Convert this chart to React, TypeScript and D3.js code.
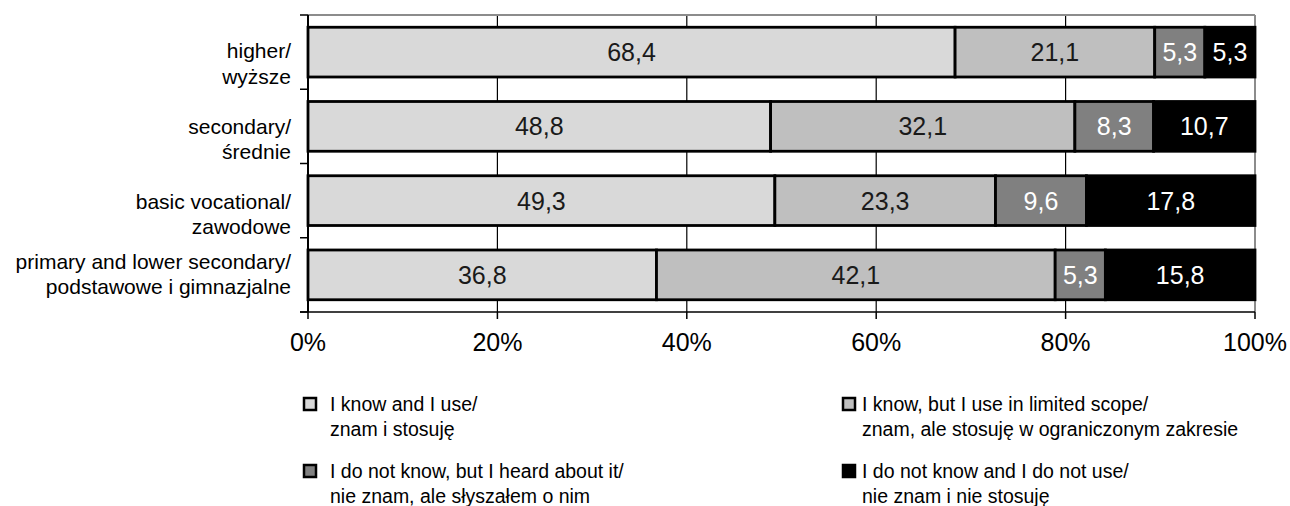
import React from "react";
import * as d3 from "d3";

// ---- data ----
const categories = [
  "higher/ wyższe",
  "secondary/ średnie",
  "basic vocational/ zawodowe",
  "primary and lower secondary/ podstawowe i gimnazjalne",
];
const categoryLines = [
  ["higher/", "wyższe"],
  ["secondary/", "średnie"],
  ["basic vocational/", "zawodowe"],
  ["primary and lower secondary/", "podstawowe i gimnazjalne"],
];
const seriesKeys = ["knowUse", "knowLimited", "heardOnly", "notKnow"];
const knowUse = [68.4, 48.8, 49.3, 36.8];
const knowLimited = [21.1, 32.1, 23.3, 42.1];
const heardOnly = [5.3, 8.3, 9.6, 5.3];
const notKnow = [5.3, 10.7, 17.8, 15.8];
const legendLines = [
  ["I know and I use/", "znam i stosuję"],
  ["I know, but I use in limited scope/", "znam, ale stosuję w ograniczonym zakresie"],
  ["I do not know, but I heard about it/", "nie znam, ale słyszałem o nim"],
  ["I do not know and I do not use/", "nie znam i nie stosuję"],
];
const xTicks = [0, 0.2, 0.4, 0.6, 0.8, 1];

// ---- style ----
const fills = ["#d9d9d9", "#bfbfbf", "#808080", "#000000"];
const labelColors = ["#1a1a1a", "#1a1a1a", "#ffffff", "#ffffff"];
const FONT = "'Liberation Sans', Arial, Helvetica, sans-serif";
const W = 1290;
const H = 506;
const left = 308;
const right = 1255;
const top = 15;
const bottom = 312;
const labelShift = [[6, 32], [8, 33], [8, 33], [-6, 19]];
const legendPos = [
  { mx: 304, tx: 330, y: 411 },
  { mx: 843, tx: 862, y: 411 },
  { mx: 304, tx: 330, y: 478 },
  { mx: 843, tx: 862, y: 478 },
];

export default function App() {
  const rows = categories.map((c, i) => ({
    cat: c,
    knowUse: knowUse[i],
    knowLimited: knowLimited[i],
    heardOnly: heardOnly[i],
    notKnow: notKnow[i],
  }));
  const stack = d3.stack<any>().keys(seriesKeys).offset(d3.stackOffsetExpand);
  const stacked = stack(rows);

  const x = d3.scaleLinear().domain([0, 1]).range([left, right]);
  const y = d3
    .scaleBand<string>()
    .domain(categories)
    .range([top, bottom])
    .paddingInner(0.33)
    .paddingOuter(0.165);
  const step = y.step();
  const fmt = (v: number) => v.toFixed(1).replace(".", ",");
  const pct = d3.format(".0%");

  return (
    <div style={{ position: "absolute", left: 0, top: 0 }}>
      <svg width={W} height={H} style={{ display: "block", background: "#fff" }} fontFamily={FONT}>
        {/* gridlines */}
        {xTicks.slice(1, -1).map((t) => (
          <line key={t} x1={x(t)} x2={x(t)} y1={top} y2={bottom} stroke="#000" strokeWidth={1.2} />
        ))}
        {/* plot border top/right */}
        <line x1={left} x2={right} y1={top} y2={top} stroke="#8c8c8c" strokeWidth={2} />
        <line x1={right} x2={right} y1={top} y2={bottom} stroke="#8c8c8c" strokeWidth={2} />
        {/* bars */}
        {stacked.map((s, si) => (
          <g key={s.key}>
            {s.map((d, i) => (
              <rect
                key={i}
                x={x(d[0])}
                y={y(categories[i])!}
                width={x(d[1]) - x(d[0])}
                height={y.bandwidth()}
                fill={fills[si]}
                stroke="#000"
                strokeWidth={2.8}
              />
            ))}
          </g>
        ))}
        {/* value labels */}
        {stacked.map((s, si) => (
          <g key={"l" + s.key}>
            {s.map((d, i) => (
              <text
                key={i}
                x={(x(d[0]) + x(d[1])) / 2}
                y={y(categories[i])! + y.bandwidth() / 2}
                dy="0.36em"
                textAnchor="middle"
                fontSize={25}
                fill={labelColors[si]}
              >
                {fmt((rows[i] as any)[s.key])}
              </text>
            ))}
          </g>
        ))}
        {/* y axis */}
        <line x1={left} x2={left} y1={top} y2={bottom} stroke="#000" strokeWidth={2} />
        {categories.map((c, i) => (
          <line key={"yt" + i} x1={left - 8} x2={left} y1={y(c)! - y.paddingOuter() * step} y2={y(c)! - y.paddingOuter() * step} stroke="#000" strokeWidth={1.5} />
        ))}
        <line x1={left - 8} x2={left} y1={bottom} y2={bottom} stroke="#000" strokeWidth={1.5} />
        {categories.map((c, i) => {
          const cy = y(c)! + y.bandwidth() / 2;
          return (
            <text key={"yl" + i} textAnchor="end" fontSize={21} fill="#000">
              {categoryLines[i].map((ln, j) => (
                <tspan key={j} x={291} y={cy + labelShift[i][j]}>
                  {ln}
                </tspan>
              ))}
            </text>
          );
        })}
        {/* x axis */}
        <line x1={left - 8} x2={right} y1={bottom} y2={bottom} stroke="#000" strokeWidth={1.5} />
        {xTicks.map((t) => (
          <g key={"xt" + t}>
            <line x1={x(t)} x2={x(t)} y1={bottom} y2={bottom + 7} stroke="#000" strokeWidth={1.5} />
            <text x={x(t)} y={bottom + 39} textAnchor="middle" fontSize={25} fill="#000">
              {pct(t)}
            </text>
          </g>
        ))}
        {/* legend */}
        {legendLines.map((lines, i) => {
          const p = legendPos[i];
          return (
            <g key={"lg" + i}>
              <rect x={p.mx} y={p.y - 13} width={12} height={12} fill={fills[i]} stroke="#000" strokeWidth={2.5} />
              <text fontSize={19.5} fill="#000">
                {lines.map((ln, j) => (
                  <tspan key={j} x={p.tx} y={p.y + j * 25}>
                    {ln}
                  </tspan>
                ))}
              </text>
            </g>
          );
        })}
      </svg>
    </div>
  );
}
